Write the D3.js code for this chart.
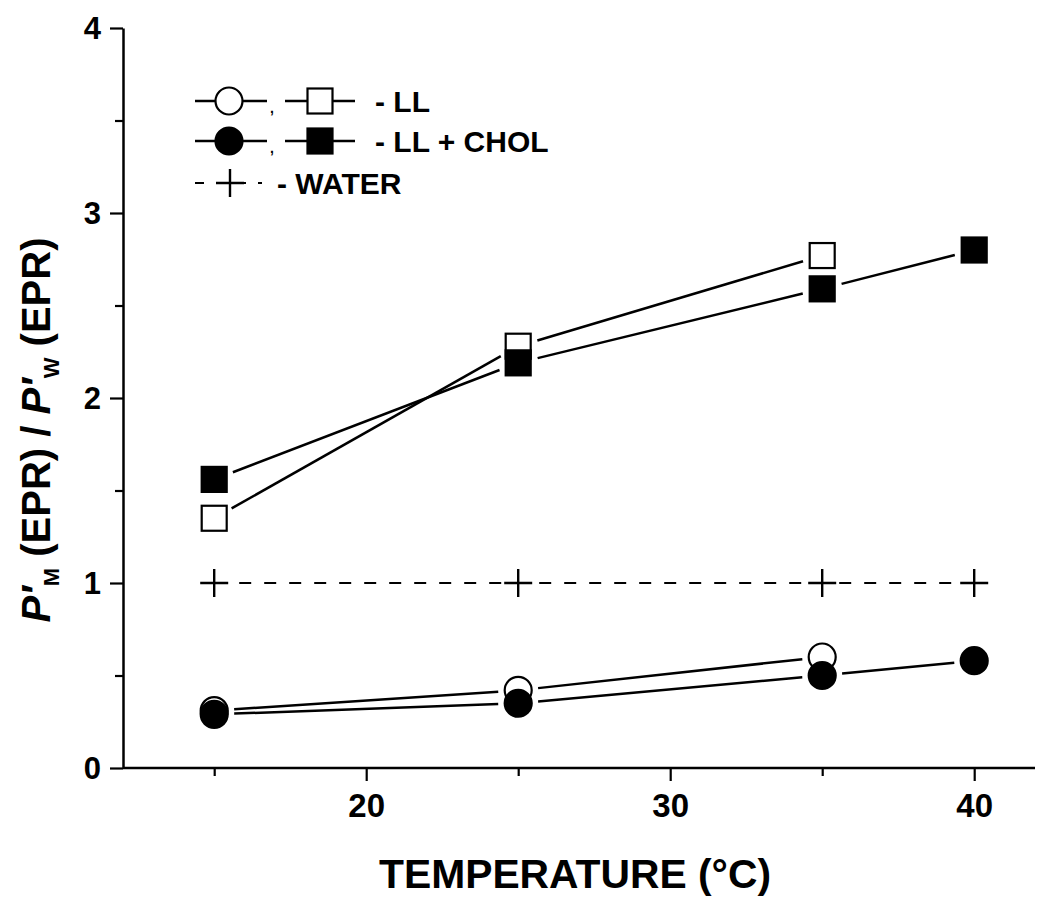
<!DOCTYPE html>
<html>
<head>
<meta charset="utf-8">
<script src="https://cdn.jsdelivr.net/npm/d3@7"></script>
<style>
  html, body { margin: 0; padding: 0; background: #fff; }
  svg { display: block; }
  text { font-family: "Liberation Sans", Arial, sans-serif; font-weight: bold; fill: #000; }
</style>
</head>
<body>
<svg id="chart" width="1050" height="913"></svg>
<script>
// ---- data ----
const llSquareT = [15, 25, 35];
const llSquare = [1.35, 2.28, 2.77];
const cholSquareT = [15, 25, 35, 40];
const cholSquare = [1.56, 2.19, 2.59, 2.80];
const llCircleT = [15, 25, 35];
const llCircle = [0.31, 0.42, 0.60];
const cholCircleT = [15, 25, 35, 40];
const cholCircle = [0.29, 0.35, 0.50, 0.58];
const waterT = [15, 25, 35, 40];
const water = [1, 1, 1, 1];
const xMajorTicks = [20, 30, 40];
const xMinorTicks = [15, 25, 35];
const yMajorTicks = [0, 1, 2, 3, 4];
const yMinorTicks = [0.5, 1.5, 2.5, 3.5];
const legendRows = ["- LL", "- LL + CHOL", "- WATER"];

const svg = d3.select("#chart");
const x = d3.scaleLinear().domain([12, 42]).range([123, 1035]);
const y = d3.scaleLinear().domain([0, 4]).range([768, 28]);

// ---- axes ----
const axW = 2.5;
const xMaj = d3.axisBottom(x).tickValues(xMajorTicks).tickSize(13).tickSizeOuter(0).tickPadding(13).tickFormat(d3.format("d"));
const xMin = d3.axisBottom(x).tickValues(xMinorTicks).tickSize(8).tickSizeOuter(0).tickFormat("");
const yMaj = d3.axisLeft(y).tickValues(yMajorTicks).tickSize(13).tickSizeOuter(0).tickPadding(9).tickFormat(d3.format("d"));
const yMin = d3.axisLeft(y).tickValues(yMinorTicks).tickSize(8).tickSizeOuter(0).tickFormat("");

function styleAxis(g, fs) {
  g.selectAll("path.domain").attr("stroke", "#000").attr("stroke-width", axW);
  g.selectAll(".tick line").attr("stroke", "#000").attr("stroke-width", 2.2);
  g.selectAll(".tick text").style("font-size", fs + "px").style("font-family", "'Liberation Sans', Arial, sans-serif").style("font-weight", "bold").attr("fill", "#000");
}
svg.append("g").attr("transform", `translate(0,${y(0)})`).call(xMin).call(styleAxis, 33).select("path.domain").remove();
const gx = svg.append("g").attr("transform", `translate(0,${y(0)})`).call(xMaj).call(styleAxis, 33);
gx.select("path.domain").attr("d", `M${x(12)},0H${x(42)}`);
svg.append("g").attr("transform", `translate(${x(12)},0)`).call(yMin).call(styleAxis, 31).select("path.domain").remove();
const gy = svg.append("g").attr("transform", `translate(${x(12)},0)`).call(yMaj).call(styleAxis, 31);
gy.selectAll(".tick text").attr("dy", "0.34em");

// ---- axis titles ----
svg.append("text")
  .attr("x", 575).attr("y", 888)
  .attr("text-anchor", "middle")
  .style("font-size", "40px")
  .attr("textLength", 392).attr("lengthAdjust", "spacingAndGlyphs")
  .text("TEMPERATURE (°C)");

const yt = svg.append("text")
  .attr("transform", "translate(50,430) rotate(-90)")
  .attr("text-anchor", "middle")
  .style("font-size", "40px");
yt.append("tspan").style("font-style", "italic").text("P′");
yt.append("tspan").attr("dy", 9).style("font-size", "22px").text("M");
yt.append("tspan").attr("dy", -9).text(" (EPR) / ");
yt.append("tspan").style("font-style", "italic").text("P′");
yt.append("tspan").attr("dy", 9).style("font-size", "22px").text("W");
yt.append("tspan").attr("dy", -9).text(" (EPR)");

// ---- series ----
const lw = 2.5;
function segLines(ts, vs, gap) {
  const pts = ts.map((t, i) => [x(t), y(vs[i])]);
  const g = svg.append("g");
  for (let i = 0; i < pts.length - 1; i++) {
    const [x1, y1] = pts[i], [x2, y2] = pts[i + 1];
    const dx = x2 - x1, dy = y2 - y1, L = Math.hypot(dx, dy);
    const ux = dx / L, uy = dy / L;
    g.append("line")
      .attr("x1", x1 + ux * gap).attr("y1", y1 + uy * gap)
      .attr("x2", x2 - ux * gap).attr("y2", y2 - uy * gap)
      .attr("stroke", "#000").attr("stroke-width", lw);
  }
}
segLines(llSquareT, llSquare, 20);
segLines(cholSquareT, cholSquare, 20);
segLines(llCircleT, llCircle, 20);
segLines(cholCircleT, cholCircle, 20);

// water dashed line
svg.append("path")
  .attr("d", d3.line().x((d, i) => x(waterT[i])).y(d => y(d))(water))
  .attr("fill", "none").attr("stroke", "#000").attr("stroke-width", 2.2)
  .attr("stroke-dasharray", "12,13");

const sq = 25, cr = 13.5;
function squares(ts, vs, filled) {
  svg.append("g").selectAll("rect").data(vs).join("rect")
    .attr("x", (d, i) => x(ts[i]) - sq / 2).attr("y", d => y(d) - sq / 2)
    .attr("width", sq).attr("height", sq)
    .attr("fill", filled ? "#000" : "#fff").attr("stroke", "#000").attr("stroke-width", 2.2);
}
function circles(ts, vs, filled) {
  svg.append("g").selectAll("circle").data(vs).join("circle")
    .attr("cx", (d, i) => x(ts[i])).attr("cy", d => y(d)).attr("r", cr)
    .attr("fill", filled ? "#000" : "#fff").attr("stroke", "#000").attr("stroke-width", 2.2);
}
function crosses(ts, vs) {
  const g = svg.append("g");
  vs.forEach((d, i) => {
    const cx = x(ts[i]), cy = y(d);
    g.append("path").attr("d", `M${cx - 14},${cy}H${cx + 14}M${cx},${cy - 14}V${cy + 14}`)
      .attr("stroke", "#000").attr("stroke-width", 2.4).attr("fill", "none");
  });
}
squares(llSquareT, llSquare, false);
squares(cholSquareT, cholSquare, true);
crosses(waterT, water);
circles(llCircleT, llCircle, false);
circles(cholCircleT, cholCircle, true);

// ---- legend ----
const lg = svg.append("g");
const rowY = [101, 141, 183];
function legLine(x1, x2, yy) {
  lg.append("line").attr("x1", x1).attr("x2", x2).attr("y1", yy).attr("y2", yy).attr("stroke", "#000").attr("stroke-width", lw);
}
[0, 1].forEach(r => {
  const yy = rowY[r], filled = r === 1;
  legLine(195, 267, yy);
  lg.append("circle").attr("cx", 229).attr("cy", yy).attr("r", cr)
    .attr("fill", filled ? "#000" : "#fff").attr("stroke", "#000").attr("stroke-width", 2.2);
  lg.append("text").attr("x", 270).attr("y", yy + 12).style("font-size", "14px").text(",");
  legLine(285, 355, yy);
  lg.append("rect").attr("x", 320 - sq / 2).attr("y", yy - sq / 2).attr("width", sq).attr("height", sq)
    .attr("fill", filled ? "#000" : "#fff").attr("stroke", "#000").attr("stroke-width", 2.2);
  lg.append("text").attr("x", 375).attr("y", yy + 11).style("font-size", "30px").text(legendRows[r]);
});
{
  const yy = rowY[2];
  lg.append("line").attr("x1", 195).attr("x2", 262).attr("y1", yy).attr("y2", yy)
    .attr("stroke", "#000").attr("stroke-width", 2.2).attr("stroke-dasharray", "9,12");
  lg.append("path").attr("d", `M${230},${yy - 14}V${yy + 14}M${216},${yy}H${244}`).attr("stroke", "#000").attr("stroke-width", 2.4);
  lg.append("text").attr("x", 277).attr("y", yy + 11).style("font-size", "30px").text(legendRows[2]);
}
</script>
</body>
</html>
